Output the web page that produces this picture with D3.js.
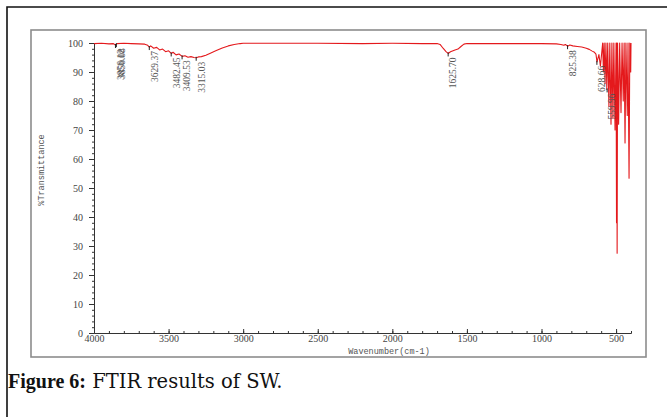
<!DOCTYPE html>
<html>
<head>
<meta charset="utf-8">
<script src="https://cdn.jsdelivr.net/npm/d3@7"></script>
<style>
  body { margin: 0; background: #fff; }
  .axis text { font-family: "Liberation Serif", serif; font-size: 10px; fill: #444; }
  .axis path, .axis line { stroke: #333; }
  .peakLabel { font-family: "Liberation Serif", serif; font-size: 9.5px; fill: #555; }
  .axisTitle { font-family: "Liberation Mono", monospace; font-size: 8.5px; fill: #555; }
  .caption { font-size: 20px; fill: #111; }
</style>
</head>
<body>
<svg id="svg1" width="667" height="417"></svg>
<script>
// data -------------------------------------
// wavenumber (cm-1) and %transmittance
var wavenumber = [4000, 3950, 3900, 3870, 3856, 3850, 3845, 3800, 3750, 3700,
  3660, 3640, 3629, 3620, 3600, 3580, 3560, 3540, 3520, 3500,
  3482, 3470, 3450, 3430, 3409, 3390, 3370, 3350, 3330, 3315,
  3300, 3280, 3250, 3220, 3180, 3140, 3100, 3060, 3020, 3000,
  2900, 2500, 2200, 2000, 1800, 1700, 1680, 1660, 1640, 1626,
  1610, 1580, 1560, 1540, 1520, 1500, 1200, 1000, 900, 870,
  850, 840, 825, 810, 790, 760, 730, 700, 680, 660,
  645, 635, 628, 615, 605,
  590, 585, 580, 574, 568, 562, 556, 548, 542, 534,
  528, 521, 515, 507, 500, 497, 495, 493, 490, 483,
  476, 467, 460, 452, 446, 440, 434, 425, 420, 413,
  408, 402, 400];
var transmittance = [99.8, 99.9, 99.7, 99.8, 99.3, 99.6, 99.8, 99.9, 99.8, 99.7,
  99.6, 99.2, 98.6, 99.0, 98.2, 98.5, 97.6, 97.9, 97.0, 97.3,
  96.4, 96.8, 95.9, 96.2, 95.4, 95.6, 95.1, 95.3, 95.0, 94.9,
  95.2, 95.3, 95.8, 96.5, 97.4, 98.3, 99.0, 99.5, 99.8, 99.9,
  99.9, 99.9, 99.8, 99.9, 99.8, 99.8, 99.5, 98.2, 97.0, 96.4,
  97.0, 97.6, 97.9, 98.8, 99.6, 99.8, 99.8, 99.8, 99.7, 99.5,
  99.2, 99.5, 98.9, 99.3, 99.0, 98.8, 98.6, 98.2, 97.8, 97.2,
  96.8, 96.2, 93.5, 96.0, 92.0,
  100, 90, 100, 86, 100, 84, 100, 78, 100, 72,
  100, 74, 100, 70, 100, 38, 100, 27.5, 100, 72,
  100, 76, 100, 80, 100, 65.5, 100, 75, 100, 53.4,
  100, 90, 100];

// peak picks
var peakText = ["3856.12", "3850.08", "3629.37", "3482.45", "3409.53", "3315.03", "1625.70", "825.38", "628.66", "559.96"];
var peakWn = [3856.12, 3850.08, 3629.37, 3482.45, 3409.53, 3315.03, 1625.70, 825.38, 628.66, 559.96];
var peakT = [99.3, 99.6, 98.6, 96.4, 95.4, 94.9, 96.4, 98.9, 93.5, 84];

var xTicks = [4000, 3500, 3000, 2500, 2000, 1500, 1000, 500];
var yTicks = [0, 10, 20, 30, 40, 50, 60, 70, 80, 90, 100];

var svg = d3.select("#svg1");

// frames -------------------------------------
svg.append("path")
  .attr("d", "M7,417V7H667")
  .attr("fill", "none")
  .attr("stroke", "#111")
  .attr("stroke-width", 1.6);

svg.append("rect")
  .attr("x", 31).attr("y", 30)
  .attr("width", 615).attr("height", 327)
  .attr("fill", "none")
  .attr("stroke", "#8c8c8c")
  .attr("stroke-width", 1.6);

// scales -------------------------------------
var x = d3.scaleLinear().domain([4000, 400]).range([94, 631]);
var y = d3.scaleLinear().domain([0, 100]).range([333, 43]);

// axes -------------------------------------
svg.append("g")
  .attr("class", "axis")
  .attr("transform", "translate(94,0)")
  .call(d3.axisLeft(y).tickValues(d3.range(0, 101, 2)).tickSize(2).tickSizeOuter(0).tickFormat(""));

svg.append("g")
  .attr("class", "axis")
  .attr("transform", "translate(94,0)")
  .call(d3.axisLeft(y).tickValues(yTicks).tickSize(5).tickSizeOuter(0).tickPadding(6));

svg.append("g")
  .attr("class", "axis")
  .attr("transform", "translate(0,333)")
  .call(d3.axisBottom(x).tickValues(d3.range(4000, 399, -100)).tickSizeInner(-2).tickSizeOuter(0).tickFormat(""));

svg.append("g")
  .attr("class", "axis")
  .attr("transform", "translate(0,333)")
  .call(d3.axisBottom(x).tickValues(xTicks).tickSizeInner(-4).tickSizeOuter(0).tickPadding(2).tickFormat(d3.format("d")));

// titles
svg.append("text")
  .attr("class", "axisTitle")
  .attr("x", 389).attr("y", 354)
  .attr("text-anchor", "middle")
  .text("Wavenumber(cm-1)");

svg.append("text")
  .attr("class", "axisTitle")
  .attr("transform", "translate(41,170) rotate(-90)")
  .attr("text-anchor", "middle")
  .attr("dy", "0.35em")
  .text("%Transmittance");

// spectrum -------------------------------------
var line = d3.line()
  .x(function(d, i) { return x(wavenumber[i]); })
  .y(function(d, i) { return y(transmittance[i]); });

svg.append("path")
  .datum(wavenumber)
  .attr("d", line)
  .attr("fill", "none")
  .attr("stroke", "#e4191c")
  .attr("stroke-width", 1.1)
  .attr("stroke-linejoin", "round");

// peak markers + labels
svg.selectAll(".peakTick")
  .data(peakWn)
  .enter().append("line")
  .attr("class", "peakTick")
  .attr("x1", function(d) { return x(d); })
  .attr("x2", function(d) { return x(d); })
  .attr("y1", function(d, i) { return y(peakT[i]) - 1; })
  .attr("y2", function(d, i) { return y(peakT[i]) + 3; })
  .attr("stroke", "#222")
  .attr("stroke-width", 1);

svg.selectAll(".peakLabel")
  .data(peakText)
  .enter().append("text")
  .attr("class", "peakLabel")
  .attr("transform", function(d, i) {
    return "translate(" + (x(peakWn[i]) + 5) + "," + (y(peakT[i]) + 4) + ") rotate(-90)";
  })
  .attr("text-anchor", "end")
  .attr("dy", "0.35em")
  .text(function(d) { return d; });

// caption -------------------------------------
var cap = svg.append("text")
  .attr("class", "caption")
  .attr("x", 8).attr("y", 388);
cap.append("tspan")
  .attr("font-family", "Liberation Serif, serif")
  .attr("font-weight", "bold")
  .text("Figure 6:");
cap.append("tspan")
  .attr("font-family", "DejaVu Serif, serif")
  .attr("font-size", "19.5px")
  .text(" FTIR results of SW.");
</script>
</body>
</html>
